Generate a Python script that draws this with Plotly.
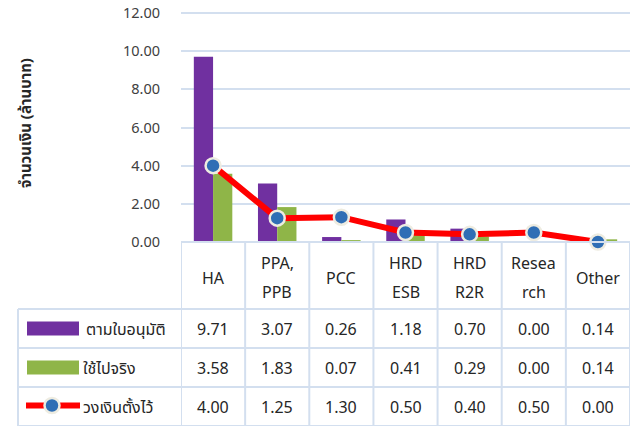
import plotly.graph_objects as go

# ---------------- data ----------------
categories = ["HA", "PPA,<br>PPB", "PCC", "HRD<br>ESB", "HRD<br>R2R", "Resea<br>rch", "Other"]
series_names = ["ตามใบอนุมัติ", "ใช้ไปจริง", "วงเงินตั้งไว้"]
approved = [9.71, 3.07, 0.26, 1.18, 0.70, 0.00, 0.14]
actual = [3.58, 1.83, 0.07, 0.41, 0.29, 0.00, 0.14]
budget = [4.00, 1.25, 1.30, 0.50, 0.40, 0.50, 0.00]
y_ticks = [0, 2, 4, 6, 8, 10, 12]
y_title = "จำนวนเงิน (ล้านบาท)"

# ---------------- layout constants (page pixels) ----------------
OFF = 8                      # default page body margin
W, H = 641 - OFF, 426 - OFF
Y_MAX = 12.1
PLOT_L, PLOT_R = 181, 630
PLOT_B = 242
PX_PER_UNIT = 229 / 12
PLOT_T = PLOT_B - Y_MAX * PX_PER_UNIT
ROWS = [242, 309, 348, 387, 426]
LABEL_L = 18
FONT = "Noto Sans, Noto Sans Thai, Tahoma, DejaVu Sans, sans-serif"
TXT = "#262626"
GRID = "#D3DFEF"
PURPLE = "#7030A0"
GREEN = "#8FB548"
RED = "#FF0000"
BLUE = "#2F6EB5"
CELL_SIZE = 16


def px(x):
    return (x - OFF) / W


def py(y):
    return 1 - (y - OFF) / H


idx = list(range(len(categories)))

fig = go.Figure()
fig.add_trace(go.Bar(x=idx, y=approved, name=series_names[0], marker=dict(color=PURPLE, line=dict(width=0))))
fig.add_trace(go.Bar(x=idx, y=actual, name=series_names[1], marker=dict(color=GREEN, line=dict(width=0))))
fig.add_trace(go.Scatter(x=idx, y=budget, name=series_names[2], mode="lines+markers",
                         line=dict(color=RED, width=6),
                         marker=dict(color=BLUE, size=15, line=dict(color="#EEECE1", width=2.5)),
                         cliponaxis=False))

shapes = []
ann = []
lw = 2
# vertical table lines (category boundaries)
for i in range(len(categories) + 1):
    shapes.append(dict(type="line", xref="x", yref="paper", x0=i - 0.5, x1=i - 0.5,
                       y0=py(ROWS[-1]), y1=py(ROWS[0]), line=dict(color=GRID, width=lw), layer="below"))
# left border of label column
shapes.append(dict(type="line", xref="paper", yref="paper", x0=px(LABEL_L), x1=px(LABEL_L),
                   y0=py(ROWS[-1]), y1=py(ROWS[1]), line=dict(color=GRID, width=lw)))
# horizontal lines
shapes.append(dict(type="line", xref="paper", yref="paper", x0=px(PLOT_L), x1=px(PLOT_R),
                   y0=py(ROWS[0]), y1=py(ROWS[0]), line=dict(color=GRID, width=lw)))
for r in ROWS[1:]:
    shapes.append(dict(type="line", xref="paper", yref="paper", x0=px(LABEL_L), x1=px(PLOT_R),
                       y0=py(r), y1=py(r), line=dict(color=GRID, width=lw)))


def text_ann(x, y, text, xref="paper", size=CELL_SIZE, xanchor="center", **kw):
    return dict(x=x, y=y, xref=xref, yref="paper", text=text, showarrow=False,
                xanchor=xanchor, yanchor="middle", font=dict(size=size, color=TXT, family=FONT), **kw)


# header labels
for i, c in enumerate(categories):
    parts = c.split("<br>")
    yc = (ROWS[0] + ROWS[1]) / 2 + 2
    if len(parts) == 1:
        ann.append(text_ann(i, py(yc), parts[0], xref="x"))
    else:
        for k, p in enumerate(parts):
            ann.append(text_ann(i, py(yc - 14.5 + 29 * k), p, xref="x"))

# values + row labels
for r, vals in enumerate([approved, actual, budget]):
    yc = (ROWS[r + 1] + ROWS[r + 2]) / 2
    for i, v in enumerate(vals):
        ann.append(text_ann(i, py(yc), f"{v:.2f}", xref="x"))
    ann.append(text_ann(px(81 if r else 84), py(yc), series_names[r], size=16, xanchor="left"))

# legend swatches in table
y1c = (ROWS[1] + ROWS[2]) / 2
shapes.append(dict(type="rect", xref="paper", yref="paper", x0=px(27), x1=px(79), y0=py(y1c + 7), y1=py(y1c - 7),
                   fillcolor=PURPLE, line=dict(width=0)))
y2c = (ROWS[2] + ROWS[3]) / 2
shapes.append(dict(type="rect", xref="paper", yref="paper", x0=px(27), x1=px(79), y0=py(y2c + 7), y1=py(y2c - 7),
                   fillcolor=GREEN, line=dict(width=0)))
y3c = (ROWS[3] + ROWS[4]) / 2 - 1
shapes.append(dict(type="line", xref="paper", yref="paper", x0=px(26), x1=px(80), y0=py(y3c), y1=py(y3c),
                   line=dict(color=RED, width=6)))
shapes.append(dict(type="circle", xref="paper", yref="paper", xsizemode="pixel", ysizemode="pixel",
                   xanchor=px(52), yanchor=py(y3c), x0=-7.5, x1=7.5, y0=-7.5, y1=7.5,
                   fillcolor=BLUE, line=dict(color="#EEECE1", width=2.5)))

# y title
ann.append(text_ann(px(25), py(123), f"<b>{y_title}</b>", size=15, textangle=-90))

fig.update_layout(
    width=W, height=H, margin=dict(l=0, r=0, t=0, b=0, pad=0, autoexpand=False),
    paper_bgcolor="white", plot_bgcolor="white",
    barmode="group", bargap=0.4, bargroupgap=0,
    showlegend=False,
    shapes=shapes, annotations=ann,
    font=dict(family=FONT, color=TXT),
    xaxis=dict(domain=[px(PLOT_L), px(PLOT_R)], range=[-0.5, len(categories) - 0.5], automargin=False,
               showticklabels=False, showgrid=False, zeroline=False, showline=False, ticks=""),
    yaxis=dict(domain=[py(PLOT_B), py(PLOT_T)], range=[0, Y_MAX], tickvals=y_ticks, tickformat=".2f",
               automargin=False, ticklabeloverflow="allow",
               showgrid=True, gridcolor=GRID, gridwidth=2, zeroline=False, showline=False,
               ticks="", ticklabelstandoff=20, tickfont=dict(size=14.5, color="#404040", family=FONT)),
)

fig.write_html("out.html")
